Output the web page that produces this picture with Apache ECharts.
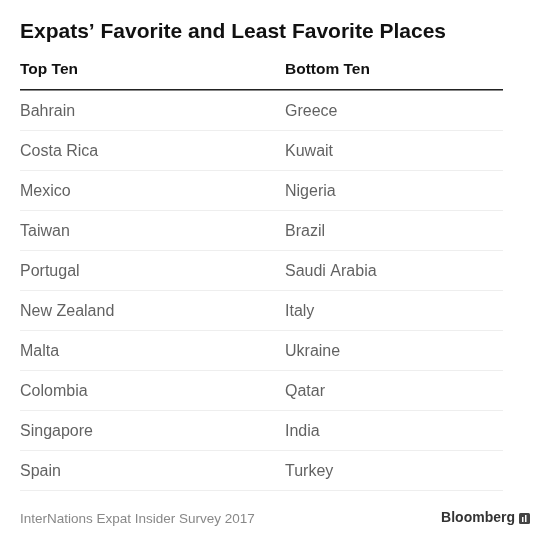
<!DOCTYPE html>
<html><head><meta charset="utf-8">
<script src="https://cdn.jsdelivr.net/npm/echarts@6/dist/echarts.min.js"></script>
<style>html,body{margin:0;padding:0;background:#fff}#c{width:555px;height:548px}</style>
</head><body><div id="c"></div>
<script>
const title = "Expats’ Favorite and Least Favorite Places";
const headers = ["Top Ten", "Bottom Ten"];
const topTen = ["Bahrain","Costa Rica","Mexico","Taiwan","Portugal","New Zealand","Malta","Colombia","Singapore","Spain"];
const bottomTen = ["Greece","Kuwait","Nigeria","Brazil","Saudi Arabia","Italy","Ukraine","Qatar","India","Turkey"];
const source = "InterNations Expat Insider Survey 2017";
const rows = topTen.map((_, i) => String(i));
const font = "'Liberation Sans', Arial, sans-serif";
const chart = echarts.init(document.getElementById('c'));
const txt = { fontFamily: font, fontSize: 16, color: '#3a3a3a', offset: [0, 2] };
chart.setOption({
  animation: false,
  grid: { left: 20, right: 52, top: 90, bottom: 58 },
  xAxis: { type: 'value', min: 0, max: 483/265, show: false },
  yAxis: { type: 'category', data: rows, inverse: true, boundaryGap: true,
    axisLine: { show: false }, axisTick: { show: false }, axisLabel: { show: false },
    splitLine: { show: true, lineStyle: { color: '#eeeeee', width: 1 } } },
  series: [
    { type: 'scatter', symbolSize: 0, data: topTen.map((n, i) => ({ value: [0, i], name: n })),
      label: { show: true, position: 'right', distance: 0, formatter: p => p.name, ...txt } },
    { type: 'scatter', symbolSize: 0, data: bottomTen.map((n, i) => ({ value: [1, i], name: n })),
      label: { show: true, position: 'right', distance: 0, formatter: p => p.name, ...txt } }
  ],
  graphic: [
    { type: 'text', left: 20, top: 22, style: { text: title, font: `bold 21px ${font}`, fill: '#111' } },
    { type: 'text', left: 20, top: 62, style: { text: headers[0], font: `bold 15.5px ${font}`, fill: '#111' } },
    { type: 'text', left: 285, top: 62, style: { text: headers[1], font: `bold 15.5px ${font}`, fill: '#111' } },
    { type: 'rect', z: 100, shape: { x: 20, y: 89, width: 483, height: 1.5 }, style: { fill: '#222' } },
    { type: 'text', left: 20, top: 512, style: { text: source, font: `13.5px ${font}`, fill: '#888' } },
    { type: 'text', right: 40, top: 511, style: { text: 'Bloomberg', font: `bold 14px ${font}`, fill: '#333' } },
    { type: 'rect', shape: { x: 519, y: 513, width: 11, height: 11, r: 1.5 }, style: { fill: '#444' } },
    { type: 'rect', shape: { x: 522, y: 517, width: 1.5, height: 5 }, style: { fill: '#fff' } },
    { type: 'rect', shape: { x: 525, y: 515, width: 1.5, height: 7 }, style: { fill: '#fff' } }
  ]
});
</script></body></html>
